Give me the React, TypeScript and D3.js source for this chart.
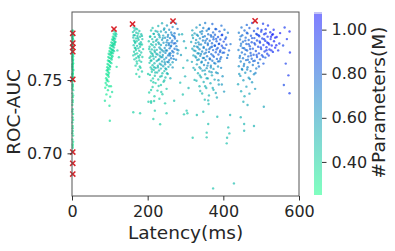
import React, { useEffect, useRef } from "react";
import * as d3 from "d3";

// [latency(ms), ROC-AUC, #params(M)]
const edgeModels = [
  [2, 0.7838, 0.33], [1, 0.7829, 0.36], [3, 0.7815, 0.31], [2, 0.7806, 0.34], [1, 0.7794, 0.38], [2, 0.7787, 0.32],
  [3, 0.7776, 0.35], [1, 0.7768, 0.30], [2, 0.7759, 0.37], [2, 0.7748, 0.33], [1, 0.7741, 0.36], [3, 0.7733, 0.31],
  [2, 0.7725, 0.34], [1, 0.7714, 0.39], [2, 0.7706, 0.32], [3, 0.7697, 0.35], [2, 0.7689, 0.30], [1, 0.7681, 0.37],
  [2, 0.7670, 0.33], [3, 0.7663, 0.36], [2, 0.7652, 0.31], [1, 0.7644, 0.34], [2, 0.7633, 0.38], [2, 0.7625, 0.32],
  [3, 0.7614, 0.35], [1, 0.7606, 0.30], [2, 0.7597, 0.33], [2, 0.7585, 0.36], [1, 0.7576, 0.31], [3, 0.7567, 0.34],
  [2, 0.7556, 0.37], [2, 0.7547, 0.32], [1, 0.7538, 0.35], [2, 0.7527, 0.33], [3, 0.7516, 0.30], [2, 0.7503, 0.36],
  [1, 0.7489, 0.32], [2, 0.7472, 0.34], [2, 0.7455, 0.31], [3, 0.7431, 0.35], [1, 0.7409, 0.33], [2, 0.7383, 0.30],
  [2, 0.7362, 0.34], [1, 0.7330, 0.32], [2, 0.7301, 0.36], [3, 0.7268, 0.31], [2, 0.7244, 0.33], [1, 0.7211, 0.35],
  [2, 0.7186, 0.30], [2, 0.7153, 0.34], [3, 0.7121, 0.32], [1, 0.7095, 0.33], [2, 0.7062, 0.31], [2, 0.7038, 0.35],
  [1, 0.7017, 0.32],
  [1, 0.7834, 0.34], [3, 0.7801, 0.32], [2, 0.7781, 0.35], [1, 0.7753, 0.31], [3, 0.7719, 0.33], [2, 0.7676, 0.36],
  [1, 0.7658, 0.32], [3, 0.7638, 0.34], [2, 0.7609, 0.31], [1, 0.7591, 0.35], [3, 0.7571, 0.33], [2, 0.7541, 0.30],
  [1, 0.7521, 0.34], [3, 0.7496, 0.32], [2, 0.7463, 0.33], [1, 0.7442, 0.31], [3, 0.7395, 0.34], [2, 0.7349, 0.32],
  [1, 0.7285, 0.33], [3, 0.7228, 0.31], [2, 0.7171, 0.34], [1, 0.7137, 0.32], [3, 0.7079, 0.33], [2, 0.7051, 0.31],
];

const groupA = [
  [112, 0.7832, 0.38], [115, 0.7821, 0.41], [110, 0.7815, 0.36], [113, 0.7806, 0.40], [116, 0.7798, 0.43], [108, 0.7795, 0.35],
  [111, 0.7788, 0.39], [114, 0.7781, 0.42], [106, 0.7776, 0.37], [109, 0.7772, 0.34], [112, 0.7764, 0.40], [115, 0.7760, 0.38],
  [104, 0.7757, 0.36], [107, 0.7751, 0.41], [110, 0.7746, 0.33], [113, 0.7741, 0.39], [102, 0.7737, 0.35], [105, 0.7733, 0.40],
  [108, 0.7728, 0.37], [111, 0.7722, 0.42], [100, 0.7718, 0.34], [103, 0.7713, 0.38], [106, 0.7709, 0.36], [109, 0.7703, 0.41],
  [99, 0.7698, 0.33], [102, 0.7692, 0.37], [105, 0.7688, 0.35], [108, 0.7683, 0.39], [97, 0.7679, 0.36], [100, 0.7673, 0.40],
  [104, 0.7667, 0.34], [107, 0.7662, 0.38], [96, 0.7657, 0.35], [99, 0.7651, 0.37], [102, 0.7646, 0.33], [105, 0.7640, 0.39],
  [95, 0.7634, 0.36], [98, 0.7628, 0.34], [101, 0.7621, 0.38], [104, 0.7615, 0.35], [94, 0.7609, 0.37], [97, 0.7602, 0.33],
  [100, 0.7595, 0.36], [93, 0.7588, 0.34], [96, 0.7580, 0.38], [99, 0.7573, 0.35], [92, 0.7566, 0.33], [95, 0.7557, 0.37],
  [98, 0.7549, 0.34], [91, 0.7541, 0.36], [94, 0.7533, 0.33], [97, 0.7522, 0.35], [90, 0.7512, 0.34], [93, 0.7503, 0.32],
  [96, 0.7491, 0.36], [89, 0.7480, 0.33], [92, 0.7466, 0.35], [103, 0.7458, 0.34], [88, 0.7447, 0.32], [95, 0.7431, 0.34],
  [106, 0.7418, 0.36], [91, 0.7402, 0.33], [101, 0.7386, 0.35], [120, 0.7702, 0.40], [124, 0.7655, 0.38], [118, 0.7590, 0.37],
  [110, 0.7781, 0.38], [106, 0.7702, 0.37], [99, 0.7629, 0.35], [113, 0.7753, 0.40], [103, 0.7681, 0.36], [96, 0.7537, 0.34],
  [108, 0.7738, 0.39], [101, 0.7591, 0.36], [94, 0.7569, 0.33], [117, 0.7812, 0.42], [105, 0.7653, 0.37], [92, 0.7497, 0.33],
  [98, 0.7458, 0.34], [111, 0.7697, 0.40],
];

const groupB = [
  [163, 0.7858, 0.45], [168, 0.7851, 0.48], [172, 0.7846, 0.43], [165, 0.7838, 0.50], [178, 0.7834, 0.46], [161, 0.7827, 0.44],
  [170, 0.7822, 0.49], [175, 0.7817, 0.42], [183, 0.7812, 0.47], [166, 0.7806, 0.45], [173, 0.7800, 0.51], [180, 0.7795, 0.44],
  [162, 0.7790, 0.48], [169, 0.7784, 0.43], [186, 0.7779, 0.46], [176, 0.7775, 0.50], [164, 0.7769, 0.45], [171, 0.7764, 0.42],
  [182, 0.7758, 0.48], [167, 0.7753, 0.44], [178, 0.7747, 0.47], [185, 0.7742, 0.43], [163, 0.7738, 0.46], [172, 0.7733, 0.49],
  [180, 0.7727, 0.44], [166, 0.7721, 0.42], [175, 0.7716, 0.47], [188, 0.7711, 0.45], [169, 0.7705, 0.43], [178, 0.7699, 0.48],
  [164, 0.7693, 0.44], [183, 0.7688, 0.46], [172, 0.7682, 0.42], [167, 0.7676, 0.45], [180, 0.7670, 0.43], [175, 0.7663, 0.47],
  [186, 0.7657, 0.44], [170, 0.7650, 0.42], [165, 0.7641, 0.45], [178, 0.7633, 0.43], [183, 0.7624, 0.46], [172, 0.7612, 0.42],
  [168, 0.7598, 0.44], [181, 0.7584, 0.43], [175, 0.7571, 0.41], [185, 0.7558, 0.44], [170, 0.7541, 0.42], [178, 0.7522, 0.43],
  [174, 0.7787, 0.47], [168, 0.7717, 0.44], [181, 0.7742, 0.46], [163, 0.7806, 0.47], [177, 0.7654, 0.45], [185, 0.7801, 0.48],
  [171, 0.7626, 0.43], [166, 0.7761, 0.46], [179, 0.7592, 0.44], [162, 0.7668, 0.43],
];

const groupC = [
  [262, 0.7893, 0.62], [238, 0.7887, 0.55], [275, 0.7884, 0.70],
  [228, 0.7868, 0.52], [251, 0.7872, 0.60], [266, 0.7862, 0.68], [213, 0.7855, 0.48], [244, 0.7851, 0.58], [279, 0.7849, 0.72], [257, 0.7843, 0.65],
  [209, 0.7838, 0.47], [221, 0.7834, 0.51], [235, 0.7831, 0.56], [248, 0.7826, 0.62], [262, 0.7824, 0.69], [271, 0.7819, 0.74],
  [216, 0.7815, 0.49], [229, 0.7812, 0.55], [254, 0.7808, 0.66], [283, 0.7811, 0.60], [241, 0.7803, 0.59], [268, 0.7801, 0.72],
  [207, 0.7797, 0.46], [219, 0.7794, 0.50], [232, 0.7791, 0.56], [246, 0.7788, 0.63], [259, 0.7786, 0.70], [272, 0.7783, 0.76],
  [212, 0.7779, 0.48], [225, 0.7777, 0.53], [238, 0.7774, 0.60], [252, 0.7772, 0.67], [265, 0.7769, 0.74], [278, 0.7766, 0.66], [203, 0.7764, 0.45],
  [215, 0.7759, 0.49], [228, 0.7757, 0.55], [242, 0.7754, 0.62], [256, 0.7751, 0.71], [269, 0.7749, 0.78], [209, 0.7745, 0.47],
  [222, 0.7742, 0.52], [235, 0.7739, 0.58], [249, 0.7737, 0.66], [262, 0.7734, 0.73], [276, 0.7731, 0.70], [205, 0.7727, 0.46], [218, 0.7724, 0.50], [231, 0.7722, 0.57],
  [245, 0.7718, 0.64], [258, 0.7716, 0.72], [271, 0.7713, 0.77], [211, 0.7709, 0.48], [224, 0.7706, 0.53], [238, 0.7703, 0.60],
  [251, 0.7701, 0.68], [265, 0.7698, 0.75], [207, 0.7694, 0.46], [219, 0.7691, 0.51], [233, 0.7688, 0.58], [247, 0.7685, 0.65], [260, 0.7683, 0.71], [279, 0.7681, 0.64],
  [213, 0.7677, 0.49], [226, 0.7674, 0.55], [240, 0.7671, 0.61], [254, 0.7668, 0.69], [267, 0.7665, 0.74], [208, 0.7661, 0.47],
  [221, 0.7658, 0.52], [235, 0.7655, 0.59], [249, 0.7652, 0.66], [262, 0.7649, 0.72], [216, 0.7645, 0.50], [230, 0.7642, 0.56], [244, 0.7640, 0.62],
  [257, 0.7636, 0.70], [210, 0.7633, 0.48], [224, 0.7630, 0.53], [238, 0.7627, 0.58], [252, 0.7624, 0.65], [266, 0.7621, 0.60],
  [205, 0.7617, 0.46], [218, 0.7614, 0.50], [232, 0.7611, 0.55], [246, 0.7608, 0.61], [260, 0.7605, 0.57], [213, 0.7601, 0.48],
  [227, 0.7597, 0.52], [241, 0.7594, 0.57], [255, 0.7590, 0.54], [208, 0.7586, 0.46], [221, 0.7582, 0.50], [235, 0.7578, 0.54],
  [249, 0.7574, 0.52], [216, 0.7569, 0.47], [230, 0.7565, 0.51], [244, 0.7561, 0.49],
  [211, 0.7556, 0.45], [225, 0.7551, 0.49], [239, 0.7546, 0.47], [253, 0.7541, 0.50], [206, 0.7535, 0.44], [219, 0.7529, 0.47],
  [233, 0.7523, 0.46], [247, 0.7517, 0.48], [214, 0.7511, 0.44], [228, 0.7504, 0.46],
  [209, 0.7496, 0.43], [242, 0.7488, 0.46], [221, 0.7479, 0.44], [235, 0.7466, 0.45], [213, 0.7452, 0.43], [250, 0.7440, 0.45],
  [226, 0.7428, 0.44], [204, 0.7415, 0.42], [239, 0.7403, 0.44], [218, 0.7389, 0.43], [231, 0.7372, 0.42], [209, 0.7355, 0.41], [246, 0.7341, 0.43],
  [291, 0.7812, 0.55], [296, 0.7765, 0.58], [301, 0.7718, 0.52], [288, 0.7671, 0.60], [305, 0.7634, 0.56], [294, 0.7583, 0.50],
  [299, 0.7525, 0.53], [286, 0.7482, 0.48], [308, 0.7446, 0.51], [293, 0.7401, 0.47],
  [204, 0.7712, 0.45], [231, 0.7803, 0.57], [259, 0.7667, 0.70], [217, 0.7588, 0.49], [273, 0.7751, 0.79], [242, 0.7695, 0.61],
  [226, 0.7829, 0.54], [208, 0.7631, 0.46], [264, 0.7809, 0.71], [236, 0.7604, 0.58], [250, 0.7757, 0.66], [213, 0.7738, 0.48],
  [281, 0.7703, 0.63], [223, 0.7679, 0.52], [255, 0.7621, 0.64], [243, 0.7843, 0.60], [201, 0.7541, 0.44], [268, 0.7689, 0.73],
  [230, 0.7747, 0.55], [216, 0.7815, 0.50], [247, 0.7579, 0.56], [261, 0.7728, 0.72], [210, 0.7683, 0.47], [239, 0.7657, 0.59],
  [275, 0.7638, 0.69], [220, 0.7551, 0.48], [253, 0.7795, 0.67], [234, 0.7712, 0.57], [206, 0.7795, 0.46], [266, 0.7586, 0.62],
  [228, 0.7636, 0.53], [248, 0.7701, 0.65], [214, 0.7664, 0.49], [271, 0.7795, 0.75], [237, 0.7527, 0.50], [257, 0.7679, 0.70],
  [222, 0.7768, 0.52], [245, 0.7622, 0.60], [211, 0.7574, 0.46], [263, 0.7757, 0.74], [232, 0.7666, 0.56], [277, 0.7708, 0.72],
  [218, 0.7702, 0.50], [251, 0.7546, 0.52], [240, 0.7786, 0.61], [205, 0.7651, 0.45], [269, 0.7644, 0.71], [227, 0.7586, 0.51],
  [256, 0.7739, 0.69], [215, 0.7485, 0.44], [244, 0.7497, 0.48], [260, 0.7512, 0.55], [229, 0.7459, 0.45], [209, 0.7432, 0.43],
  [236, 0.7418, 0.44],
];

const groupD = [
  [352, 0.7889, 0.72], [371, 0.7882, 0.80], [338, 0.7876, 0.66], [395, 0.7871, 0.78],
  [329, 0.7858, 0.62], [347, 0.7855, 0.70], [362, 0.7851, 0.76], [381, 0.7847, 0.83], [403, 0.7843, 0.74], [318, 0.7839, 0.58],
  [356, 0.7836, 0.69], [390, 0.7832, 0.85], [339, 0.7828, 0.64], [373, 0.7825, 0.79], [412, 0.7822, 0.71],
  [324, 0.7818, 0.60], [343, 0.7815, 0.67], [360, 0.7812, 0.74], [378, 0.7809, 0.82], [396, 0.7806, 0.88], [333, 0.7802, 0.63],
  [351, 0.7799, 0.72], [368, 0.7796, 0.78], [386, 0.7793, 0.86], [407, 0.7790, 0.80], [320, 0.7787, 0.58], [338, 0.7784, 0.66], [357, 0.7781, 0.75],
  [374, 0.7778, 0.81], [392, 0.7776, 0.89], [328, 0.7773, 0.62], [346, 0.7770, 0.69], [364, 0.7768, 0.77], [382, 0.7765, 0.84],
  [401, 0.7762, 0.90], [315, 0.7759, 0.57], [334, 0.7757, 0.64], [352, 0.7754, 0.72], [370, 0.7751, 0.79], [389, 0.7748, 0.87], [419, 0.7745, 0.76], [341, 0.7742, 0.67],
  [359, 0.7739, 0.74], [377, 0.7736, 0.82], [396, 0.7734, 0.88], [323, 0.7731, 0.60], [330, 0.7728, 0.63], [348, 0.7725, 0.70],
  [366, 0.7722, 0.77], [385, 0.7719, 0.85], [404, 0.7716, 0.83], [318, 0.7713, 0.57], [337, 0.7710, 0.65], [355, 0.7707, 0.72], [373, 0.7704, 0.80],
  [392, 0.7701, 0.86], [326, 0.7698, 0.61], [344, 0.7695, 0.68], [362, 0.7692, 0.75], [380, 0.7689, 0.83], [398, 0.7686, 0.79],
  [332, 0.7683, 0.63], [350, 0.7680, 0.70], [368, 0.7677, 0.77], [387, 0.7674, 0.84], [412, 0.7671, 0.72], [321, 0.7668, 0.58], [339, 0.7665, 0.66],
  [357, 0.7662, 0.73], [375, 0.7659, 0.80], [394, 0.7656, 0.76], [328, 0.7653, 0.60], [346, 0.7650, 0.67], [364, 0.7647, 0.74],
  [383, 0.7644, 0.78], [335, 0.7640, 0.62], [353, 0.7636, 0.69], [371, 0.7632, 0.73], [390, 0.7628, 0.70], [317, 0.7624, 0.56],
  [342, 0.7620, 0.64], [360, 0.7616, 0.70], [379, 0.7612, 0.68], [330, 0.7607, 0.59], [349, 0.7602, 0.65], [367, 0.7597, 0.66],
  [386, 0.7592, 0.63], [337, 0.7587, 0.58], [356, 0.7581, 0.62], [374, 0.7576, 0.60], [325, 0.7570, 0.55], [345, 0.7564, 0.59],
  [363, 0.7558, 0.58], [381, 0.7552, 0.61], [333, 0.7546, 0.54], [352, 0.7539, 0.57], [370, 0.7532, 0.56], [398, 0.7526, 0.64],
  [341, 0.7519, 0.53], [359, 0.7511, 0.55], [377, 0.7503, 0.57], [329, 0.7495, 0.52], [348, 0.7487, 0.54],
  [366, 0.7478, 0.55], [388, 0.7469, 0.60], [337, 0.7458, 0.51], [355, 0.7446, 0.53], [374, 0.7433, 0.54], [402, 0.7421, 0.62],
  [344, 0.7408, 0.50], [362, 0.7395, 0.52], [383, 0.7381, 0.55], [351, 0.7366, 0.50],
  [336, 0.7743, 0.66], [367, 0.7806, 0.78], [391, 0.7691, 0.82], [349, 0.7651, 0.67], [378, 0.7734, 0.83], [322, 0.7702, 0.59],
  [405, 0.7779, 0.89], [358, 0.7598, 0.66], [344, 0.7833, 0.68], [386, 0.7627, 0.74], [331, 0.7636, 0.61], [372, 0.7668, 0.79],
  [399, 0.7721, 0.87], [353, 0.7769, 0.73], [318, 0.7805, 0.57], [381, 0.7781, 0.85], [340, 0.7578, 0.60], [363, 0.7712, 0.76],
  [410, 0.7651, 0.77], [327, 0.7752, 0.62], [394, 0.7583, 0.69], [348, 0.7719, 0.70], [376, 0.7616, 0.71], [361, 0.7847, 0.74],
  [335, 0.7681, 0.63], [388, 0.7745, 0.86], [354, 0.7687, 0.72], [321, 0.7583, 0.56], [369, 0.7553, 0.62], [402, 0.7687, 0.84],
  [343, 0.7625, 0.65], [382, 0.7709, 0.84], [330, 0.7809, 0.61], [365, 0.7641, 0.75], [397, 0.7809, 0.91], [351, 0.7566, 0.60],
  [374, 0.7793, 0.80], [338, 0.7531, 0.55], [408, 0.7741, 0.86], [359, 0.7749, 0.75], [326, 0.7661, 0.60], [385, 0.7547, 0.64],
  [346, 0.7794, 0.69], [370, 0.7727, 0.79], [392, 0.7643, 0.77], [333, 0.7722, 0.63], [356, 0.7512, 0.56], [379, 0.7848, 0.82],
  [415, 0.7702, 0.80], [341, 0.7678, 0.65], [367, 0.7585, 0.64], [324, 0.7501, 0.52], [387, 0.7498, 0.60], [352, 0.7458, 0.53],
  [372, 0.7446, 0.56], [396, 0.7469, 0.62], [339, 0.7425, 0.51], [360, 0.7361, 0.52], [380, 0.7412, 0.57],
];

const groupE = [
  [476, 0.7889, 0.86], [505, 0.7884, 0.95], [462, 0.7876, 0.80], [518, 0.7872, 0.98],
  [448, 0.7858, 0.76], [469, 0.7855, 0.84], [491, 0.7851, 0.91], [512, 0.7847, 0.97], [533, 0.7843, 1.02], [456, 0.7838, 0.79],
  [481, 0.7834, 0.88], [500, 0.7830, 0.94], [524, 0.7826, 1.00], [441, 0.7822, 0.73],
  [464, 0.7818, 0.81], [487, 0.7815, 0.89], [508, 0.7812, 0.96], [529, 0.7809, 1.03], [450, 0.7805, 0.77], [473, 0.7802, 0.85],
  [495, 0.7799, 0.92], [517, 0.7796, 0.99], [541, 0.7793, 1.05], [459, 0.7789, 0.79], [482, 0.7786, 0.87], [503, 0.7783, 0.94],
  [525, 0.7779, 1.01], [444, 0.7776, 0.74], [467, 0.7773, 0.82], [489, 0.7770, 0.90], [511, 0.7767, 0.97], [534, 0.7764, 1.04],
  [452, 0.7761, 0.77], [475, 0.7758, 0.85], [497, 0.7755, 0.93], [519, 0.7752, 1.00], [548, 0.7749, 0.98], [461, 0.7746, 0.80],
  [484, 0.7742, 0.88], [506, 0.7739, 0.95], [528, 0.7736, 1.02], [446, 0.7733, 0.75], [470, 0.7730, 0.83], [492, 0.7727, 0.91],
  [514, 0.7724, 0.98], [537, 0.7721, 1.06], [455, 0.7717, 0.78], [478, 0.7714, 0.86], [500, 0.7711, 0.93], [522, 0.7708, 0.99], [440, 0.7705, 0.72],
  [463, 0.7701, 0.80], [486, 0.7698, 0.88], [509, 0.7695, 0.95], [531, 0.7692, 0.97], [449, 0.7688, 0.76], [472, 0.7685, 0.83],
  [494, 0.7682, 0.90], [516, 0.7679, 0.93], [457, 0.7675, 0.78], [480, 0.7672, 0.85], [502, 0.7669, 0.88], [444, 0.7665, 0.73],
  [466, 0.7661, 0.80], [489, 0.7657, 0.86], [511, 0.7653, 0.84], [452, 0.7649, 0.75], [475, 0.7645, 0.81], [497, 0.7641, 0.83],
  [460, 0.7636, 0.76], [483, 0.7631, 0.79], [446, 0.7626, 0.71], [469, 0.7621, 0.75], [492, 0.7616, 0.77],
  [455, 0.7609, 0.70], [478, 0.7602, 0.73], [441, 0.7594, 0.66], [464, 0.7587, 0.69], [487, 0.7579, 0.72], [450, 0.7570, 0.65],
  [472, 0.7561, 0.67], [458, 0.7550, 0.63], [481, 0.7539, 0.66], [445, 0.7528, 0.61], [467, 0.7516, 0.62],
  [453, 0.7498, 0.60], [476, 0.7485, 0.63], [439, 0.7471, 0.57], [461, 0.7455, 0.59], [484, 0.7440, 0.61], [447, 0.7423, 0.56],
  [469, 0.7407, 0.58], [456, 0.7389, 0.55],
  [562, 0.7858, 0.96], [575, 0.7831, 1.04], [568, 0.7779, 0.99], [558, 0.7735, 0.92], [576, 0.7688, 1.01], [565, 0.7612, 0.94],
  [572, 0.7532, 0.97], [560, 0.7466, 0.90], [575, 0.7410, 0.95], [550, 0.7820, 1.07], [545, 0.7702, 1.00],
  [458, 0.7769, 0.80], [493, 0.7806, 0.92], [521, 0.7743, 1.00], [471, 0.7712, 0.84], [505, 0.7659, 0.88], [446, 0.7798, 0.75],
  [482, 0.7752, 0.87], [537, 0.7789, 1.04], [465, 0.7638, 0.77], [512, 0.7818, 0.97], [451, 0.7719, 0.76], [499, 0.7723, 0.93],
  [527, 0.7702, 1.01], [476, 0.7786, 0.86], [443, 0.7652, 0.72], [488, 0.7671, 0.88], [516, 0.7756, 0.98], [462, 0.7822, 0.81],
  [494, 0.7592, 0.78], [531, 0.7812, 1.03], [454, 0.7596, 0.71], [508, 0.7778, 0.96], [479, 0.7629, 0.80], [447, 0.7747, 0.74],
  [520, 0.7667, 0.95], [467, 0.7744, 0.83], [501, 0.7842, 0.95], [485, 0.7548, 0.70], [459, 0.7706, 0.79], [540, 0.7737, 1.05],
  [473, 0.7667, 0.83], [514, 0.7703, 0.97], [449, 0.7576, 0.67], [496, 0.7763, 0.92], [526, 0.7795, 1.02], [463, 0.7572, 0.69],
  [489, 0.7811, 0.90], [442, 0.7541, 0.62], [506, 0.7612, 0.85], [470, 0.7507, 0.64],
];

const outliers = [
  [87, 0.7359, 0.36], [99, 0.7325, 0.35], [100, 0.7222, 0.36], [162, 0.7280, 0.42], [180, 0.7273, 0.43], [202, 0.7352, 0.44],
  [209, 0.7345, 0.45], [217, 0.7357, 0.44], [215, 0.7234, 0.43], [219, 0.7291, 0.44], [233, 0.7198, 0.42], [250, 0.7273, 0.45],
  [270, 0.7359, 0.47], [296, 0.7266, 0.46], [303, 0.7291, 0.47], [305, 0.7273, 0.45], [330, 0.7261, 0.48], [347, 0.7284, 0.49],
  [356, 0.7141, 0.46], [356, 0.7109, 0.47], [360, 0.7200, 0.48], [361, 0.7336, 0.50], [319, 0.7106, 0.45], [384, 0.7250, 0.50],
  [409, 0.7068, 0.48], [410, 0.7106, 0.49], [413, 0.7177, 0.50], [416, 0.7136, 0.48], [418, 0.7261, 0.52], [446, 0.7246, 0.53],
  [453, 0.7352, 0.55], [455, 0.7200, 0.52], [455, 0.7154, 0.51], [464, 0.7330, 0.56], [481, 0.7186, 0.53], [507, 0.7318, 0.58],
  [373, 0.6761, 0.47], [428, 0.6795, 0.49],
];

// pareto-optimal models (red crosses)
const paretoLatency = [2, 2, 2, 2, 2, 2, 2, 2, 111, 160, 267, 484];
const paretoAuc = [0.7819, 0.7752, 0.7722, 0.7694, 0.7505, 0.7009, 0.6932, 0.6859, 0.7848, 0.7882, 0.7902, 0.7904];

const xTicks = [0, 200, 400, 600];
const yTicks = [0.70, 0.75];
const cbarTicks = [0.4, 0.6, 0.8, 1.0];
const paramRange = [0.25, 1.08];

const W = 395, H = 251;
const font = "DejaVu Sans, sans-serif";

// matplotlib winter_r
function winterR(t: number) {
  const g = Math.round(255 * (1 - t));
  const b = Math.round(255 * (0.5 + 0.5 * t));
  return `rgb(0,${g},${b})`;
}

export default function App() {
  const ref = useRef<SVGSVGElement>(null);

  useEffect(() => {
    const svg = d3.select(ref.current);
    svg.selectAll("*").remove();

    const left = 72, right = 299, top = 12, bottom = 196;
    const x = d3.scaleLinear().domain([0, 600]).range([left, right]);
    const y = d3.scaleLinear().domain([0.6709, 0.7964]).range([bottom, top]);
    const norm = d3.scaleLinear().domain(paramRange).range([0, 1]).clamp(true);

    const pts = [...edgeModels, ...groupA, ...groupB, ...groupC, ...groupD, ...groupE, ...outliers];

    // scatter
    svg.append("g")
      .selectAll("circle")
      .data(pts)
      .enter()
      .append("circle")
      .attr("cx", d => x(d[0]))
      .attr("cy", d => y(d[1]))
      .attr("r", 1.2)
      .attr("fill", d => winterR(norm(d[2])))
      .attr("fill-opacity", 0.62);

    // pareto crosses
    const s = 2.6;
    svg.append("g")
      .selectAll("path")
      .data(paretoLatency.map((l, i) => [l, paretoAuc[i]]))
      .enter()
      .append("path")
      .attr("d", d => {
        const cx = x(d[0]), cy = y(d[1]);
        return `M${cx - s},${cy - s}L${cx + s},${cy + s}M${cx - s},${cy + s}L${cx + s},${cy - s}`;
      })
      .attr("stroke", "#d8232a")
      .attr("stroke-width", 1.5);

    // frame
    svg.append("rect")
      .attr("x", left).attr("y", top)
      .attr("width", right - left).attr("height", bottom - top)
      .attr("fill", "none").attr("stroke", "#555").attr("stroke-width", 1);

    // x axis
    const gx = svg.append("g").attr("transform", `translate(0,${bottom})`)
      .call(d3.axisBottom(x).tickValues(xTicks).tickFormat(d3.format("d")).tickSize(4.5).tickPadding(5));
    gx.select(".domain").remove();
    gx.selectAll("line").attr("stroke", "#333");
    gx.selectAll("text").attr("font-family", font).attr("font-size", 16).attr("fill", "#262626");

    // y axis
    const gy = svg.append("g").attr("transform", `translate(${left},0)`)
      .call(d3.axisLeft(y).tickValues(yTicks).tickFormat(d3.format(".2f")).tickSize(4.5).tickPadding(5));
    gy.select(".domain").remove();
    gy.selectAll("line").attr("stroke", "#333");
    gy.selectAll("text").attr("font-family", font).attr("font-size", 16).attr("fill", "#262626");

    svg.append("text")
      .attr("x", (left + right) / 2).attr("y", 239)
      .attr("text-anchor", "middle")
      .attr("font-family", font).attr("font-size", 18.5).attr("fill", "#262626")
      .text("Latency(ms)");

    svg.append("text")
      .attr("transform", `translate(20,${(top + bottom) / 2 + 8}) rotate(-90)`)
      .attr("text-anchor", "middle")
      .attr("font-family", font).attr("font-size", 18.5).attr("fill", "#262626")
      .text("ROC-AUC");

    // colorbar
    const cbL = 314, cbR = 322, cbT = 12, cbB = 195;
    const grad = svg.append("defs").append("linearGradient")
      .attr("id", "cbar").attr("x1", 0).attr("y1", 1).attr("x2", 0).attr("y2", 0);
    d3.range(0, 1.0001, 0.1).forEach(t => {
      grad.append("stop").attr("offset", t).attr("stop-color", winterR(t));
    });
    svg.append("rect")
      .attr("x", cbL).attr("y", cbT + 2)
      .attr("width", cbR - cbL).attr("height", cbB - cbT - 2)
      .attr("fill", "url(#cbar)").attr("opacity", 0.5);
    svg.append("rect")
      .attr("x", cbL).attr("y", cbT)
      .attr("width", cbR - cbL).attr("height", 2)
      .attr("fill", "#c4c4f6");

    const c = d3.scaleLinear().domain(paramRange).range([cbB, cbT]);
    const gc = svg.append("g").attr("transform", `translate(${cbR},0)`)
      .call(d3.axisRight(c).tickValues(cbarTicks).tickFormat(d3.format(".2f")).tickSize(4.5).tickPadding(5));
    gc.select(".domain").remove();
    gc.selectAll("line").attr("stroke", "#333");
    gc.selectAll("text").attr("font-family", font).attr("font-size", 16).attr("fill", "#262626");

    svg.append("text")
      .attr("transform", `translate(385,102.5) rotate(-90)`)
      .attr("text-anchor", "middle")
      .attr("font-family", font).attr("font-size", 18.5).attr("fill", "#262626")
      .text("#Parameters(M)");
  }, []);

  return (
    <svg ref={ref} width={W} height={H}
      style={{ position: "absolute", left: 0, top: 0, background: "#fff" }} />
  );
}
